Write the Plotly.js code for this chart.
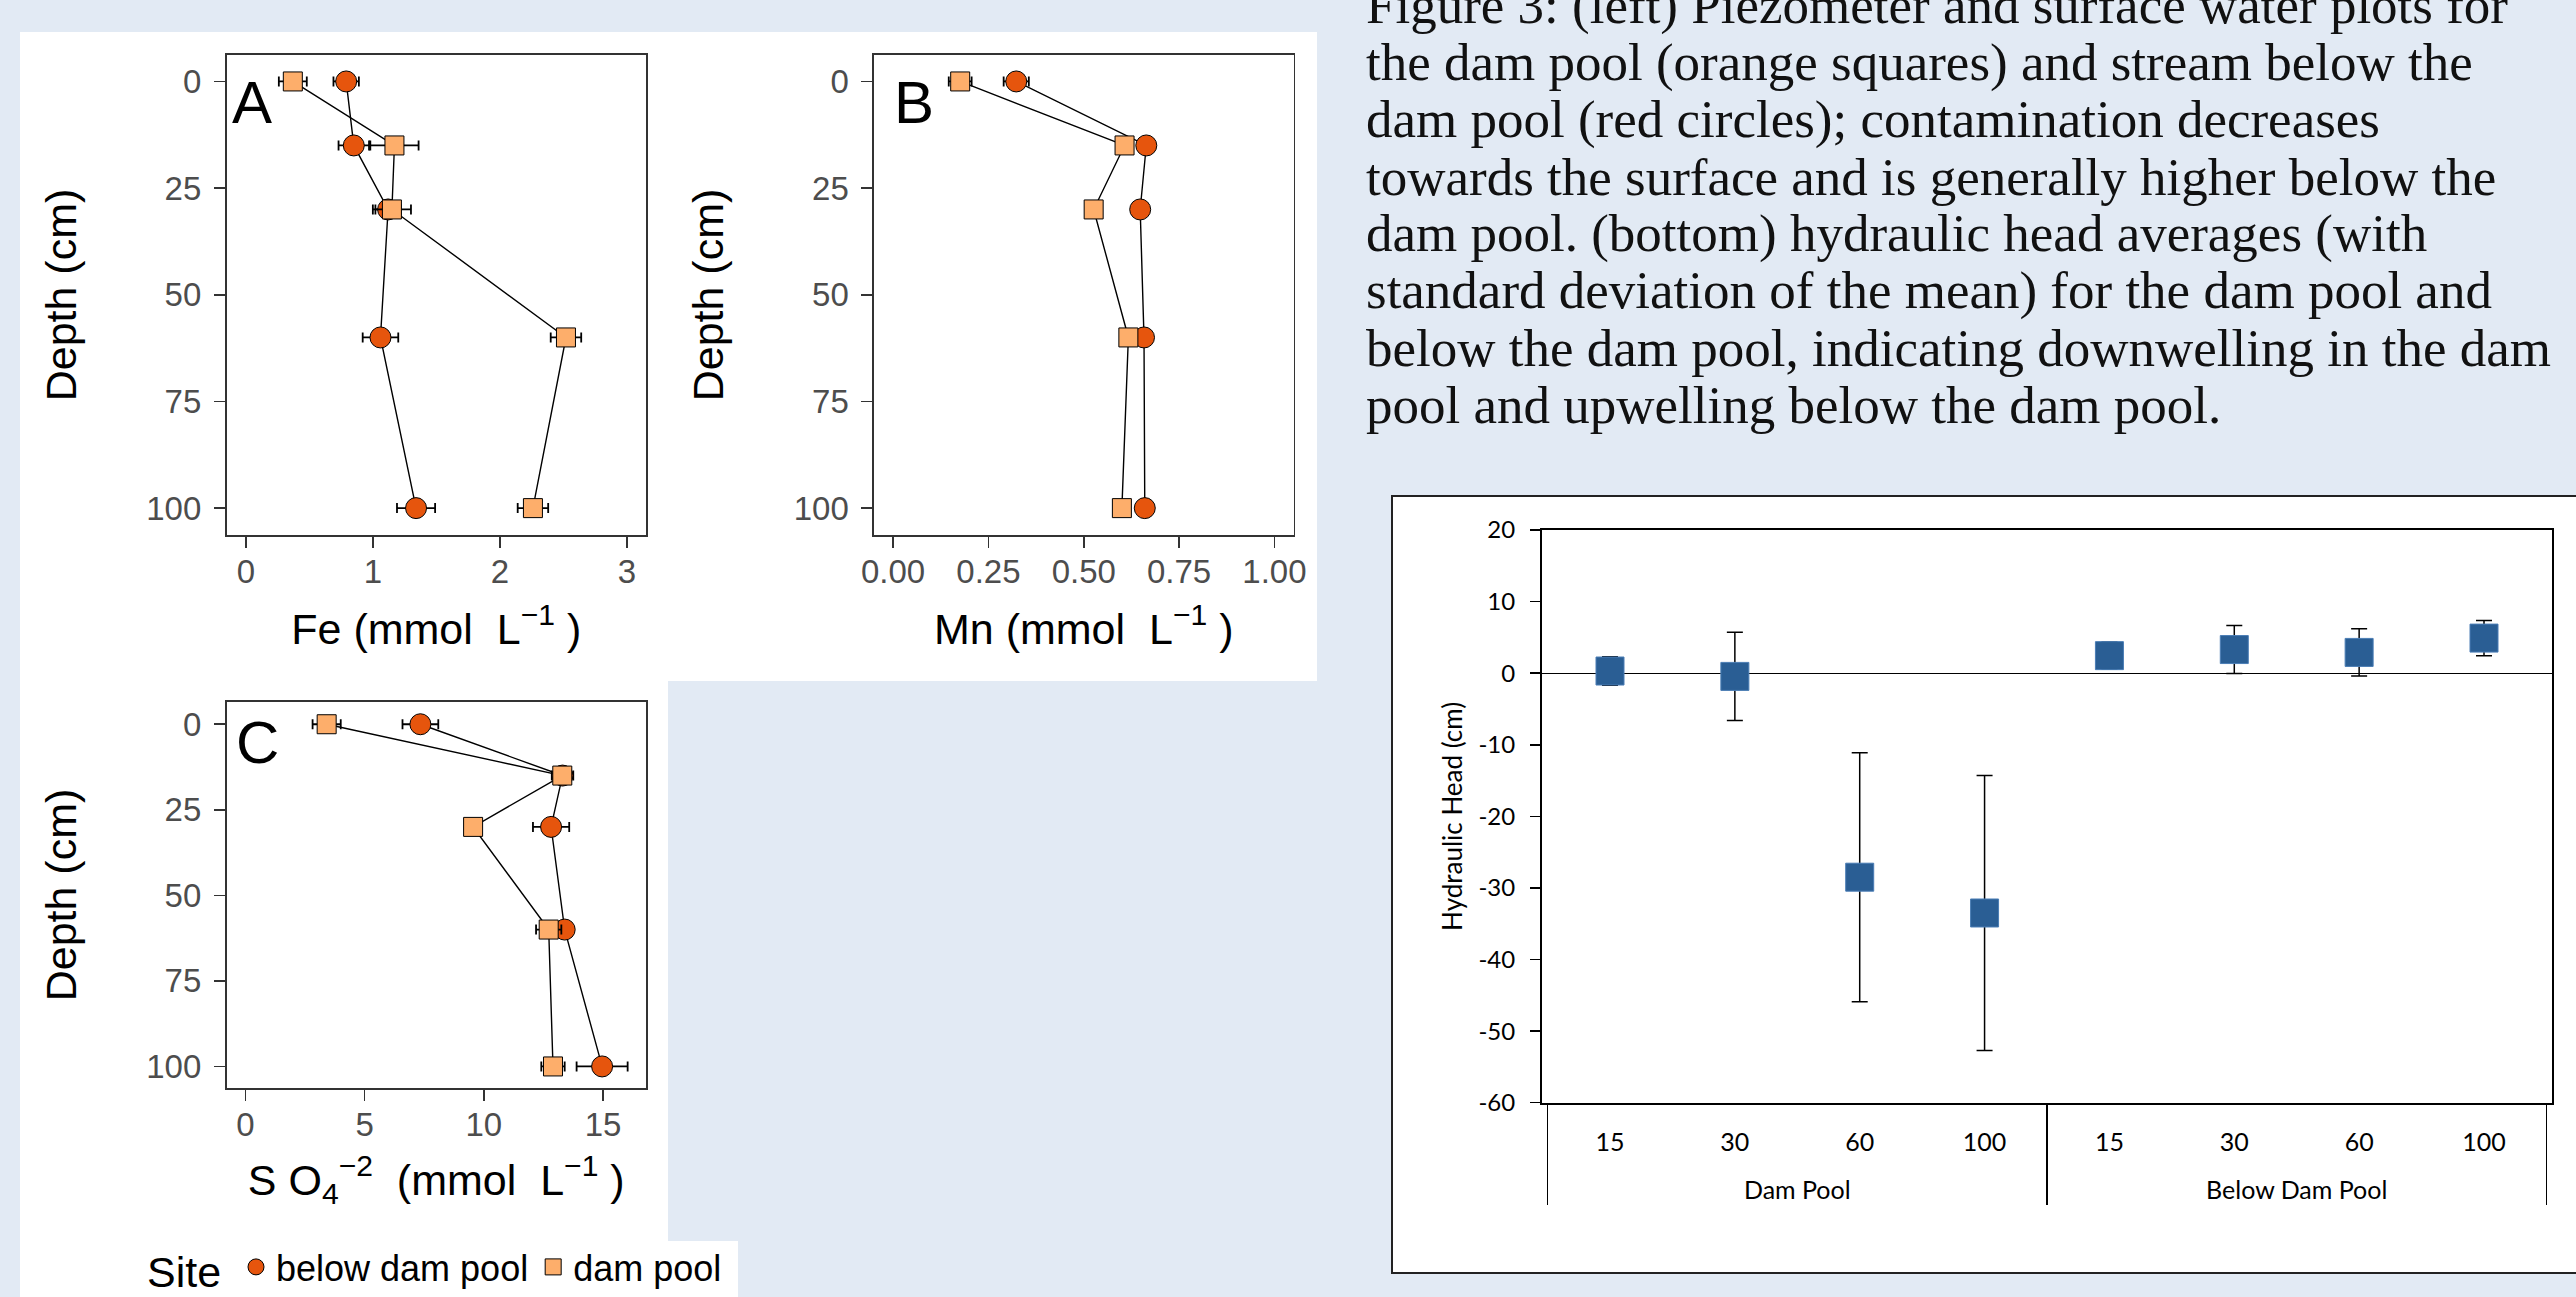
<!DOCTYPE html>
<html><head><meta charset="utf-8">
<script src="https://cdn.plot.ly/plotly-3.0.1.min.js"></script>
<style>html,body{margin:0;padding:0;background:#E2EAF4;overflow:hidden}</style>
</head><body><div id="chart" style="width:2576px;height:1297px"></div>
<script>
// ---------- data ----------
const depths = [0, 15, 30, 60, 100];
// Panel A: Fe (mmol/L)
const feBelow    = [0.79, 0.85, 1.12, 1.06, 1.34];
const feBelowErr = [0.10, 0.12, 0.10, 0.14, 0.15];
const feDam      = [0.37, 1.17, 1.15, 2.52, 2.26];
const feDamErr   = [0.11, 0.19, 0.15, 0.12, 0.12];
// Panel B: Mn (mmol/L)
const mnBelow    = [0.323, 0.664, 0.648, 0.658, 0.660];
const mnBelowErr = [0.033, 0.010, 0.008, 0.010, 0.008];
const mnDam      = [0.176, 0.607, 0.526, 0.617, 0.600];
const mnDamErr   = [0.030, 0.010, 0.008, 0.010, 0.008];
// Panel C: SO4 (mmol/L)
const so4Below    = [7.34, 13.30, 12.82, 13.39, 14.96];
const so4BelowErr = [0.75, 0.45, 0.76, 0.30, 1.07];
const so4Dam      = [3.41, 13.29, 9.55, 12.72, 12.90];
const so4DamErr   = [0.59, 0.30, 0.10, 0.53, 0.49];
// Hydraulic head chart
const hhGroup = ['Dam Pool','Dam Pool','Dam Pool','Dam Pool','Below Dam Pool','Below Dam Pool','Below Dam Pool','Below Dam Pool'];
const hhDepth = ['15','30','60','100','15','30','60','100'];
const hhMean  = [0.3, -0.45, -28.5, -33.5, 2.45, 3.3, 2.9, 4.9];
const hhErr   = [2.0, 6.15, 17.4, 19.2, 1.9, 3.35, 3.3, 2.45];
// tick labels
const feTicks  = [0, 1, 2, 3];
const mnTicks  = [0, 0.25, 0.5, 0.75, 1];
const so4Ticks = [0, 5, 10, 15];
const depthTicks = [0, 25, 50, 75, 100];
const hhTickVals = [-60, -50, -40, -30, -20, -10, 0, 10, 20];
const hhTickText = ['-60', '-50', '-40', '-30', '-20', '-10', '0', '10', '20'];
const captionLines = [
  'Figure 3: (left) Piezometer and surface water plots for',
  'the dam pool (orange squares) and stream below the',
  'dam pool (red circles); contamination decreases',
  'towards the surface and is generally higher below the',
  'dam pool. (bottom) hydraulic head averages (with',
  'standard deviation of the mean) for the dam pool and',
  'below the dam pool, indicating downwelling in the dam',
  'pool and upwelling below the dam pool.'
];

// ---------- helpers ----------
const W = 2576, H = 1297;
const fx = p => p / W;
const fy = p => 1 - p / H;
const SANS = 'Liberation Sans, Arial, Helvetica, sans-serif';
const CAL = 'Lato, Open Sans, sans-serif';
const NB = '\u00a0';

function panelTraces(xa, ya, below, belowErr, dam, damErr, showLegend) {
  return [
    {type:'scatter', mode:'lines', x:below, y:depths, xaxis:xa, yaxis:ya,
     line:{color:'#000', width:1.4}, showlegend:false, hoverinfo:'skip'},
    {type:'scatter', mode:'lines', x:dam, y:depths, xaxis:xa, yaxis:ya,
     line:{color:'#000', width:1.4}, showlegend:false, hoverinfo:'skip'},
    {type:'scatter', mode:'markers', name:'below dam pool', x:below, y:depths, xaxis:xa, yaxis:ya,
     error_x:{type:'data', array:belowErr, visible:true, color:'#000', thickness:1.8, width:5},
     marker:{symbol:'circle', size:21, color:'#E6550D', line:{color:'#000', width:1}},
     showlegend:showLegend, legendgroup:'below'},
    {type:'scatter', mode:'markers', name:'dam pool', x:dam, y:depths, xaxis:xa, yaxis:ya,
     error_x:{type:'data', array:damErr, visible:true, color:'#000', thickness:1.8, width:5},
     marker:{symbol:'square', size:19, color:'#FDAE6B', line:{color:'#000', width:1}},
     showlegend:showLegend, legendgroup:'dam'}
  ];
}

// group labels sit one line lower than the depth labels, as in the original
const hhGroupLabel = hhGroup.map(g => '<br>' + g);

const traces = [].concat(
  panelTraces('x', 'y', feBelow, feBelowErr, feDam, feDamErr, true),
  panelTraces('x2', 'y2', mnBelow, mnBelowErr, mnDam, mnDamErr, false),
  panelTraces('x3', 'y3', so4Below, so4BelowErr, so4Dam, so4DamErr, false),
  [{type:'scatter', mode:'markers', x:[hhGroupLabel, hhDepth], y:hhMean, xaxis:'x4', yaxis:'y4',
    error_y:{type:'data', array:hhErr, visible:true, color:'#000', thickness:1.5, width:8},
    marker:{symbol:'square', size:28, color:'#2A5E94', line:{color:'#4A7DB5', width:1}},
    showlegend:false}]
);

function ggAxis(extra) {
  return Object.assign({
    showline:true, mirror:true, linecolor:'#333333', linewidth:1.6,
    ticks:'outside', ticklen:11, tickwidth:1.6, tickcolor:'#333333',
    showgrid:false, zeroline:false,
    tickfont:{family:SANS, size:33, color:'#4D4D4D'}
  }, extra);
}
const titleFont = {family:SANS, size:43, color:'#000'};
const depthTitle = {text:'Depth (cm)', font:titleFont, standoff:56};

const layout = {
  width:W, height:H,
  margin:{l:0, r:0, t:0, b:0},
  paper_bgcolor:'#E2EAF4', plot_bgcolor:'#FFFFFF',
  showlegend:true,
  xaxis: ggAxis({domain:[fx(226.5), fx(646)], anchor:'y', range:[-0.152, 3.15], tickvals:feTicks,
    ticklabelstandoff:-4,
    title:{text:'Fe (mmol'+NB+NB+'L<sup>\u22121</sup>'+NB+')', font:titleFont, standoff:24}}),
  yaxis: ggAxis({domain:[fy(535), fy(55)], anchor:'x', range:[106.3, -6.2], tickvals:depthTicks,
    ticklabelstandoff:6, title:depthTitle}),
  xaxis2: ggAxis({domain:[fx(874), fx(1293.5)], anchor:'y2', range:[-0.05, 1.05], tickvals:mnTicks, tickformat:'.2f',
    ticklabelstandoff:-4,
    title:{text:'Mn (mmol'+NB+NB+'L<sup>\u22121</sup>'+NB+')', font:titleFont, standoff:24}}),
  yaxis2: ggAxis({domain:[fy(535), fy(55)], anchor:'x2', range:[106.3, -6.2], tickvals:depthTicks,
    ticklabelstandoff:6, title:depthTitle}),
  xaxis3: ggAxis({domain:[fx(226.5), fx(646)], anchor:'y3', range:[-0.79, 16.8], tickvals:so4Ticks,
    ticklabelstandoff:-4,
    title:{text:'S'+NB+'O<sub>4</sub><sup>\u22122</sup>'+NB+NB+'(mmol'+NB+NB+'L<sup>\u22121</sup>'+NB+')', font:titleFont, standoff:22}}),
  yaxis3: ggAxis({domain:[fy(1088), fy(702)], anchor:'x3', range:[106.3, -6.5], tickvals:depthTicks,
    ticklabelstandoff:6, title:depthTitle}),
  xaxis4: {domain:[fx(1542), fx(2552)], anchor:'y4', type:'multicategory', automargin:false,
    showline:true, mirror:true, linecolor:'#000', linewidth:2,
    ticks:'outside', ticklen:50, tickcolor:'rgba(0,0,0,0)', showgrid:false, ticklabelstandoff:16,
    tickfont:{family:CAL, size:25, color:'#000'}, dividercolor:'#000', dividerwidth:1.6},
  yaxis4: {domain:[fy(1102.7), fy(530)], anchor:'x4', range:[-60, 20],
    tickvals:hhTickVals, ticktext:hhTickText,
    showline:true, mirror:true, linecolor:'#000', linewidth:2,
    ticks:'outside', ticklen:10, tickwidth:1.5, tickcolor:'#000', showgrid:false,
    zeroline:true, zerolinecolor:'#000', zerolinewidth:1.3,
    tickfont:{family:CAL, size:24, color:'#000'}, ticklabelstandoff:10,
    title:{text:'Hydraulic Head (cm)', font:{family:CAL, size:26, color:'#000'}, standoff:8}},
  legend:{orientation:'h', x:fx(236), xanchor:'left', y:0, yanchor:'bottom',
    bgcolor:'rgba(0,0,0,0)', font:{family:SANS, size:36, color:'#000'},
    itemsizing:'trace', traceorder:'normal'},
  shapes:[
    {type:'rect', xref:'paper', yref:'paper', layer:'below', x0:fx(20), x1:fx(668), y0:fy(1297), y1:fy(32), fillcolor:'#FFFFFF', line:{width:0}},
    {type:'rect', xref:'paper', yref:'paper', layer:'below', x0:fx(667), x1:fx(1317), y0:fy(681), y1:fy(32), fillcolor:'#FFFFFF', line:{width:0}},
    {type:'rect', xref:'paper', yref:'paper', layer:'below', x0:fx(667), x1:fx(738), y0:fy(1297), y1:fy(1241), fillcolor:'#FFFFFF', line:{width:0}},
    {type:'rect', xref:'paper', yref:'paper', layer:'below', x0:fx(1392), x1:fx(2620), y0:fy(1273), y1:fy(496), fillcolor:'#FFFFFF', line:{color:'#222', width:2}}
  ],
  annotations: [
    {text:'A', x:fx(230), y:fy(103), xref:'paper', yref:'paper', xanchor:'left', yanchor:'middle', showarrow:false, font:{family:SANS, size:60, color:'#000'}},
    {text:'B', x:fx(892), y:fy(103), xref:'paper', yref:'paper', xanchor:'left', yanchor:'middle', showarrow:false, font:{family:SANS, size:60, color:'#000'}},
    {text:'C', x:fx(234), y:fy(742), xref:'paper', yref:'paper', xanchor:'left', yanchor:'middle', showarrow:false, font:{family:SANS, size:60, color:'#000'}},
    {text:'Site', x:fx(145), y:fy(1272), xref:'paper', yref:'paper', xanchor:'left', yanchor:'middle', showarrow:false, font:{family:SANS, size:43, color:'#000'}}
  ].concat(captionLines.map((t, i) => ({
    text:t, x:fx(1364), y:fy(23 + 57.14 * i - 17.9), xref:'paper', yref:'paper',
    xanchor:'left', yanchor:'middle', showarrow:false,
    font:{family:'Liberation Serif, Times New Roman, serif', size:53, color:'#111'}
  })))
};

Plotly.newPlot('chart', traces, layout, {staticPlot:true, displayModeBar:false});
</script></body></html>
